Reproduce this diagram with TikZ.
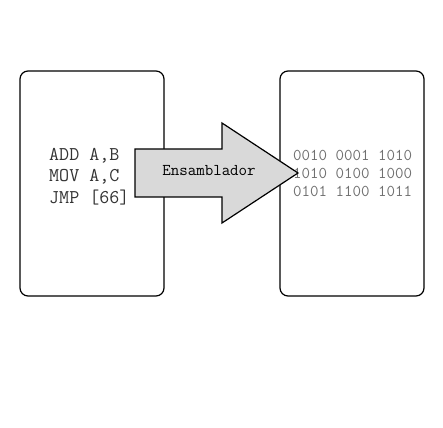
\documentclass[tikz,border=0pt]{standalone}
\usepackage{fontspec}
\definecolor{codegray}{HTML}{333333}
\definecolor{bitgray}{HTML}{707070}
\definecolor{arrowfill}{HTML}{D9D9D9}
\tikzset{
  memory/.style={draw, line width=1.2pt, rounded corners=8pt},
  asmtext/.style={font=\ttfamily\fontsize{19.5}{21.5}\selectfont, text=codegray, align=left, inner sep=0pt},
  bintext/.style={font=\ttfamily\fontsize{16.5}{18}\selectfont, text=bitgray, align=left, inner sep=0pt}
}
\begin{document}
\begin{tikzpicture}
[x=1pt,y=-1pt]
\useasboundingbox (0,0) rectangle (443,427);

\draw[memory] (20,71) rectangle (164,296); %source
\draw[memory] (280,71) rectangle (424,296); %binary

\node[asmtext, anchor=west] (asm) at (49,176.5) {ADD A,B\\MOV A,C\\JMP [66]};
\node[bintext, anchor=west] (bits) at (293,173) {0010 0001 1010\\1010 0100 1000\\0101 1100 1011};

\filldraw[fill=arrowfill, line width=1.2pt] (135,149) -- (222,149) -- (222,123) -- (298,173)
  -- (222,223) -- (222,197) -- (135,197) -- cycle; %arrow
\node[font=\ttfamily\fontsize{16.5}{18}\selectfont, inner sep=0pt] (asmlabel) at (209,171) {Ensamblador};

\end{tikzpicture}
\end{document}
